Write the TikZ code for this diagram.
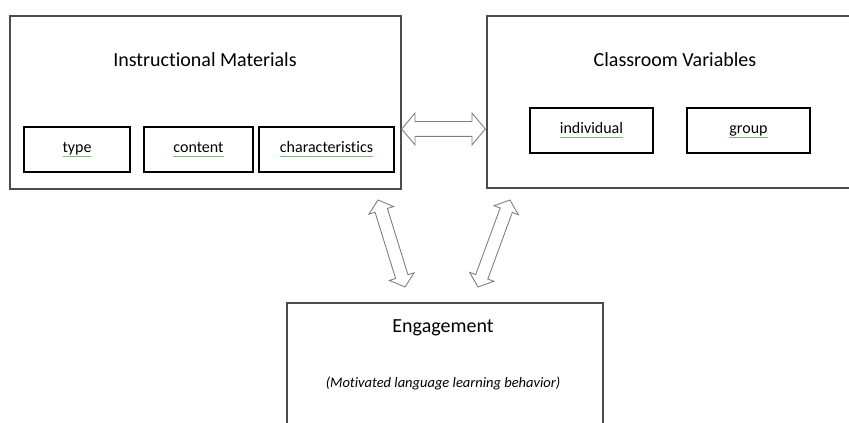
\documentclass[tikz,border=0pt]{standalone}
\usepackage{fontspec}
\setmainfont{Carlito}[Ligatures={NoCommon}]
\usetikzlibrary{calc,shapes.arrows}
\definecolor{lineGray}{gray}{0.3}
\definecolor{squigGreen}{rgb}{0.45,0.75,0.45}
\newcommand{\squig}[1]{\setbox0\hbox{#1}\rlap{\color{squigGreen}\rule[-4.5pt]{\wd0}{0.8pt}}\box0}
\tikzstyle{box} = [draw=lineGray, line width=1.3pt, rectangle, inner sep=0pt]

\begin{document}
\begin{tikzpicture}[x=1pt,y=1pt,
			sub/.style={draw, line width=1.5pt, rectangle, minimum height=45pt, text height=11pt, text depth=4.5pt,
				font=\fontsize{16}{18}\selectfont},
			title/.style={font=\fontsize{20}{24}\selectfont},
			blockarrow/.style={double arrow, draw=gray, line width=0.9pt, fill=white, inner xsep=0pt, inner ysep=7pt,
				double arrow head extend=8.5pt, double arrow tip angle=100}]
			\clip (0,0) rectangle (849,423);
			\useasboundingbox (0,0) rectangle (849,423);
			% the three main boxes
			\node (im)[box, minimum width=391pt, minimum height=173pt] at (205.5,320.5) {};
			\node (cv)[box, minimum width=373pt, minimum height=172pt] at (673.5,321) {};
			\node (eng)[box, minimum width=316pt, minimum height=137pt] at (445,51.5) {};
			
			\node (imtitle)[title] at (205,363) {Instructional Materials};
			\node (cvtitle)[title] at (675,363) {Classroom Variables};
			\node (engtitle)[title] at (443,95) {Engagement};
			\node (engsub)[font=\fontsize{14.5}{17}\selectfont\itshape] at (443,40) {(Motivated language learning behavior)};
			
			\node (type)[sub, minimum width=106pt] at (77,273.5) {\squig{type}};
			\node (content)[sub, minimum width=109pt] at (198.5,273.5) {\squig{content}};
			\node (charac)[sub, minimum width=135pt] at (326.5,273.5) {\squig{characteristics}};
			\node (indiv)[sub, minimum width=123pt] at (591.5,292.5) {\squig{individual}};
			\node (group)[sub, minimum width=123pt] at (748.5,292.5) {\squig{group}};
			
			% ends of the block arrows
			\coordinate (a1) at ($(im.east)+(0,-26.5)$);
			\coordinate (b1) at ($(cv.west)+(-1,-27)$);
			\coordinate (a2) at (378,223);
			\coordinate (b2) at (405,136);
			\coordinate (a3) at (510,223);
			\coordinate (b3) at (478,136);
			
			\path let \p1=($(b1)-(a1)$), \n1={veclen(\x1,\y1)} in
				(a1) -- (b1) node (imcv)[midway, sloped, blockarrow, minimum height=\n1] {};
			\path let \p1=($(b2)-(a2)$), \n1={veclen(\x1,\y1)} in
				(a2) -- (b2) node (imeng)[midway, sloped, blockarrow, inner ysep=6pt, double arrow head extend=6.5pt, minimum height=\n1] {};
			\path let \p1=($(b3)-(a3)$), \n1={veclen(\x1,\y1)} in
				(a3) -- (b3) node (cveng)[midway, sloped, blockarrow, inner ysep=6pt, double arrow head extend=6.5pt, minimum height=\n1] {};
		\end{tikzpicture}
\end{document}
